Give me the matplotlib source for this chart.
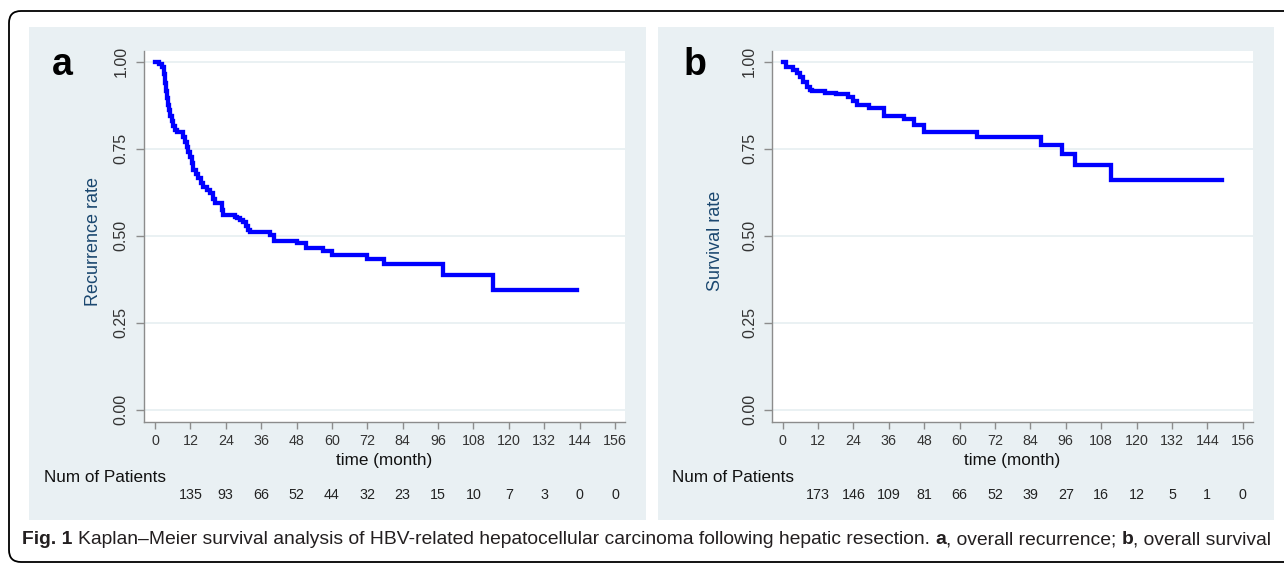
import numpy as np
import matplotlib.pyplot as plt
from matplotlib.patches import Rectangle, FancyBboxPatch
from matplotlib.transforms import blended_transform_factory

plt.rcParams['font.family'] = ['Liberation Sans', 'DejaVu Sans']

# ---- data ----
# (a) overall recurrence: step times (months) and curve value after each step
time_a = [0, 1.5, 2.3, 3.0, 3.3, 3.6, 4.0, 4.4, 4.8, 5.2, 5.7, 6.2, 6.8, 7.3,
          9.6, 10.1, 10.7, 11.3, 11.9, 12.4, 13.0, 13.8, 14.7, 15.5, 16.4,
          17.5, 18.7, 19.5, 20.3, 22.6, 23.2, 27.1, 27.7, 28.8, 29.9, 30.8,
          31.7, 32.2, 39.0, 40.4, 48.0, 51.2, 57.1, 60.1, 71.8, 77.7, 97.5,
          114.5, 143.0]
rate_a = [1.0, 0.993, 0.986, 0.965, 0.94, 0.915, 0.895, 0.875, 0.86, 0.845,
          0.83, 0.815, 0.805, 0.799, 0.785, 0.77, 0.756, 0.742, 0.727, 0.708,
          0.689, 0.677, 0.665, 0.653, 0.641, 0.632, 0.622, 0.607, 0.593,
          0.575, 0.559, 0.555, 0.55, 0.545, 0.54, 0.528, 0.516, 0.511, 0.502,
          0.486, 0.478, 0.464, 0.456, 0.445, 0.432, 0.418, 0.387, 0.344, 0.344]

# (b) overall survival
time_b = [0, 1.1, 3.6, 4.7, 5.9, 7.0, 8.1, 9.3, 9.9, 14.3, 18.1, 22.3, 23.8,
          25.3, 29.4, 34.4, 41.1, 44.5, 47.9, 66.0, 87.6, 94.6, 99.1, 111.2,
          149.1]
rate_b = [1.0, 0.986, 0.976, 0.967, 0.955, 0.943, 0.928, 0.919, 0.916, 0.911,
          0.906, 0.90, 0.887, 0.875, 0.868, 0.844, 0.835, 0.817, 0.798, 0.783,
          0.761, 0.735, 0.702, 0.659, 0.659]

x_ticks = [0, 12, 24, 36, 48, 60, 72, 84, 96, 108, 120, 132, 144, 156]
y_ticks = [0.0, 0.25, 0.50, 0.75, 1.00]
risk_times = [12, 24, 36, 48, 60, 72, 84, 96, 108, 120, 132, 144, 156]
at_risk_a = [135, 93, 66, 52, 44, 32, 23, 15, 10, 7, 3, 0, 0]
at_risk_b = [173, 146, 109, 81, 66, 52, 39, 27, 16, 12, 5, 1, 0]

caption = [("Fig. 1", "bold", True),
           ("Kaplan–Meier survival analysis of HBV-related hepatocellular "
            "carcinoma following hepatic resection.", "normal", True),
           ("a", "bold", False),
           (", overall recurrence;", "normal", True),
           ("b", "bold", False),
           (", overall survival", "normal", False)]

PANEL = "#e9f0f3"
GRID = "#e6eff1"
AXC = "#8c8c8c"
NAVY = "#1a476f"
BLUE = "#0000ff"

W, H = 1284, 565
fig = plt.figure(figsize=(W / 100, H / 100), dpi=100)

# background layer in pixel coordinates
bg = fig.add_axes([0, 0, 1, 1], zorder=-1)
bg.set_xlim(0, W)
bg.set_ylim(H, 0)
bg.axis("off")
bg.add_patch(FancyBboxPatch((9, 11), 1320, 551,
                            boxstyle="round,pad=0,rounding_size=12",
                            fc="white", ec="black", lw=1.3))
bg.add_patch(Rectangle((29, 27), 617, 493, fc=PANEL, ec="none"))
bg.add_patch(Rectangle((658, 27), 616, 493, fc=PANEL, ec="none"))

PX_PER_MONTH = 2.949
TOP, BOT = 51, 421.7


def panel(left, right, x0, times, rates, letter, letter_x, ylabel, ylab_x,
          nums, nump_x):
    ax = fig.add_axes([left / W, (H - BOT) / H, (right - left) / W,
                       (BOT - TOP) / H])
    ax.set_facecolor("white")
    ax.step(times, rates, where="post", color=BLUE, lw=3.1,
            solid_joinstyle="miter")
    ax.set_xlim((left - x0) / PX_PER_MONTH, (right - x0) / PX_PER_MONTH)
    ax.set_ylim(-0.0345, 1.031)
    ax.set_xticks(x_ticks)
    ax.set_yticks(y_ticks)
    ax.set_yticklabels([f"{v:.2f}" for v in y_ticks])
    ax.yaxis.grid(True, color=GRID, lw=1.2)
    ax.set_axisbelow(True)
    for s in ("top", "right"):
        ax.spines[s].set_visible(False)
    for s in ("left", "bottom"):
        ax.spines[s].set_color(AXC)
        ax.spines[s].set_linewidth(1)
    ax.tick_params(axis="x", length=5, width=1, color=AXC, pad=4,
                   labelsize=10.3, labelcolor="#333333")
    ax.tick_params(axis="y", length=6, width=1, color=AXC, pad=5,
                   labelsize=11.5, labelcolor="#333333")
    plt.setp(ax.get_yticklabels(), rotation=90, va="center")

    ax.set_xlabel("time (month)", fontsize=12.3, color="#111111")
    ax.xaxis.set_label_coords(0.5, (BOT - 460) / (BOT - TOP))
    ax.xaxis.label.set_va("center")
    ax.set_ylabel(ylabel, fontsize=13, color=NAVY)
    ax.yaxis.set_label_coords((ylab_x - left) / (right - left),
                              (BOT - 241) / (BOT - TOP))
    ax.yaxis.label.set_va("center")

    bg.text(letter_x, 75, letter, fontsize=27, fontweight="bold",
            ha="center", va="baseline", color="black")
    bg.text(nump_x, 477, "Num of Patients", fontsize=12.3, ha="left",
            va="center", color="#111111")
    tr = blended_transform_factory(ax.transData, bg.transData)
    for t, n in zip(risk_times, nums):
        ax.text(t, 495, str(n), transform=tr, fontsize=10.3, ha="center",
                va="center", color="#222222", clip_on=False)
    return ax


panel(144, 625, 155, time_a, rate_a, "a", 62, "Recurrence rate", 93,
      at_risk_a, 44)
panel(772.3, 1252.7, 782.7, time_b, rate_b, "b", 695, "Survival rate", 715,
      at_risk_b, 672)

# caption, fitted to the original width
fig.canvas.draw()
r = fig.canvas.get_renderer()


def place_caption(fs):
    arts = []
    a1 = bg.text(0, 0, "x x", fontsize=fs)
    a2 = bg.text(0, 0, "xx", fontsize=fs)
    space = a1.get_window_extent(r).width - a2.get_window_extent(r).width
    a1.remove()
    a2.remove()
    x = 22
    for txt, weight, gap in caption:
        t = bg.text(x, 540, txt, fontsize=fs, fontweight=weight, ha="left",
                    va="center", color="#231f20")
        arts.append(t)
        x += t.get_window_extent(r).width + (space if gap else 0)
    return arts, x - 22


arts, width = place_caption(11.5)
for a in arts:
    a.remove()
place_caption(11.5 * 1250 / width)

fig.savefig("out.png", dpi=100)
